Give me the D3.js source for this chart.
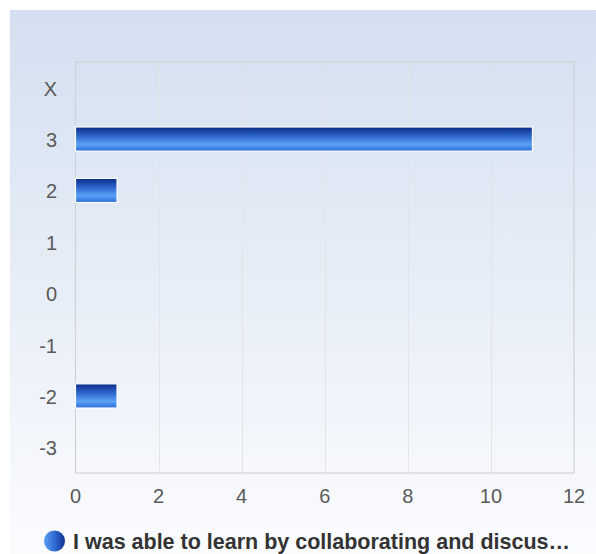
<!DOCTYPE html>
<html>
<head>
<meta charset="utf-8">
<script src="https://cdn.jsdelivr.net/npm/d3@7"></script>
<style>
  html, body { margin: 0; padding: 0; background: #ffffff; }
  svg { display: block; font-family: "Liberation Sans", Arial, sans-serif; }
</style>
</head>
<body>
<svg id="chart" width="596" height="554"></svg>
<script>
// Category axis (top to bottom) and response counts
const categories = ["X", "3", "2", "1", "0", "-1", "-2", "-3"];
const counts = [0, 11, 1, 0, 0, 0, 1, 0];
const xTicks = [0, 2, 4, 6, 8, 10, 12];
const seriesName = "I was able to learn by collaborating and discus\u2026";

const svg = d3.select("#chart");
const W = 596, H = 554;
const plot = { left: 75.5, right: 574, top: 62, bottom: 473 };

const defs = svg.append("defs");

// Panel background: pale blue fading to near white
const bg = defs.append("linearGradient").attr("id", "bgGrad")
  .attr("x1", 0).attr("y1", 0).attr("x2", 0).attr("y2", 1);
bg.append("stop").attr("offset", "0%").attr("stop-color", "#d3dff0");
bg.append("stop").attr("offset", "100%").attr("stop-color", "#fbfcfe");

// Bar fill: navy at top, bright blue lower, darker at bottom edge
const bar = defs.append("linearGradient").attr("id", "barGrad")
  .attr("x1", 0).attr("y1", 0).attr("x2", 0).attr("y2", 1);
bar.append("stop").attr("offset", "0%").attr("stop-color", "#0b2a86");
bar.append("stop").attr("offset", "35%").attr("stop-color", "#2b62c8");
bar.append("stop").attr("offset", "72%").attr("stop-color", "#5aa2f7");
bar.append("stop").attr("offset", "100%").attr("stop-color", "#2a6ad6");

// Legend swatch: horizontal shading
const leg = defs.append("linearGradient").attr("id", "legGrad")
  .attr("x1", 0).attr("y1", 0).attr("x2", 1).attr("y2", 0);
leg.append("stop").attr("offset", "0%").attr("stop-color", "#5a9ff2");
leg.append("stop").attr("offset", "55%").attr("stop-color", "#2e66cf");
leg.append("stop").attr("offset", "100%").attr("stop-color", "#0f2e8e");

svg.append("rect").attr("x", 10).attr("y", 10)
  .attr("width", W - 10).attr("height", H - 10)
  .attr("fill", "url(#bgGrad)");

const x = d3.scaleLinear().domain([0, 12]).range([plot.left, plot.right]);
const y = d3.scaleBand().domain(categories)
  .range([plot.top, plot.bottom]).paddingInner(0.53).paddingOuter(0.265);
const band = d3.scaleBand().domain(categories).range([plot.top, plot.bottom]);

// Vertical grid lines
svg.append("g").selectAll("line").data(xTicks.slice(1, -1)).join("line")
  .attr("x1", d => Math.round(x(d)) + 0.5).attr("x2", d => Math.round(x(d)) + 0.5)
  .attr("y1", plot.top).attr("y2", plot.bottom)
  .attr("stroke", "#e2e4e8").attr("stroke-width", 1);

// Plot frame
svg.append("rect")
  .attr("x", plot.left).attr("y", plot.top)
  .attr("width", plot.right - plot.left).attr("height", plot.bottom - plot.top)
  .attr("fill", "none").attr("stroke", "#cfd2d6").attr("stroke-width", 1.2);

// Bars
svg.append("g").selectAll("rect").data(categories.map((c, i) => ({ c, v: counts[i] })).filter(d => d.v > 0))
  .join("rect")
  .attr("x", x(0))
  .attr("y", d => y(d.c))
  .attr("width", d => x(d.v) - x(0))
  .attr("height", y.bandwidth())
  .attr("fill", "url(#barGrad)")
  .attr("stroke", "#ffffff").attr("stroke-width", 1.2);

// Category labels
svg.append("g").selectAll("text").data(categories).join("text")
  .attr("x", 57).attr("y", d => band(d) + band.bandwidth() / 2 + 1)
  .attr("dy", "0.35em").attr("text-anchor", "end")
  .attr("font-size", 20).attr("fill", "#5a5a5a")
  .text(d => d);

// Value axis labels
svg.append("g").selectAll("text").data(xTicks).join("text")
  .attr("x", d => x(d)).attr("y", 496).attr("dy", "0.35em")
  .attr("text-anchor", "middle").attr("font-size", 20).attr("fill", "#5a5a5a")
  .text(d => d);

// Legend
svg.append("circle").attr("cx", 54.5).attr("cy", 541).attr("r", 10.5)
  .attr("fill", "url(#legGrad)");
svg.append("text").attr("x", 73).attr("y", 541).attr("dy", "0.36em")
  .attr("font-size", 21.5).attr("font-weight", "bold").attr("fill", "#333333")
  .text(seriesName);
</script>
</body>
</html>
